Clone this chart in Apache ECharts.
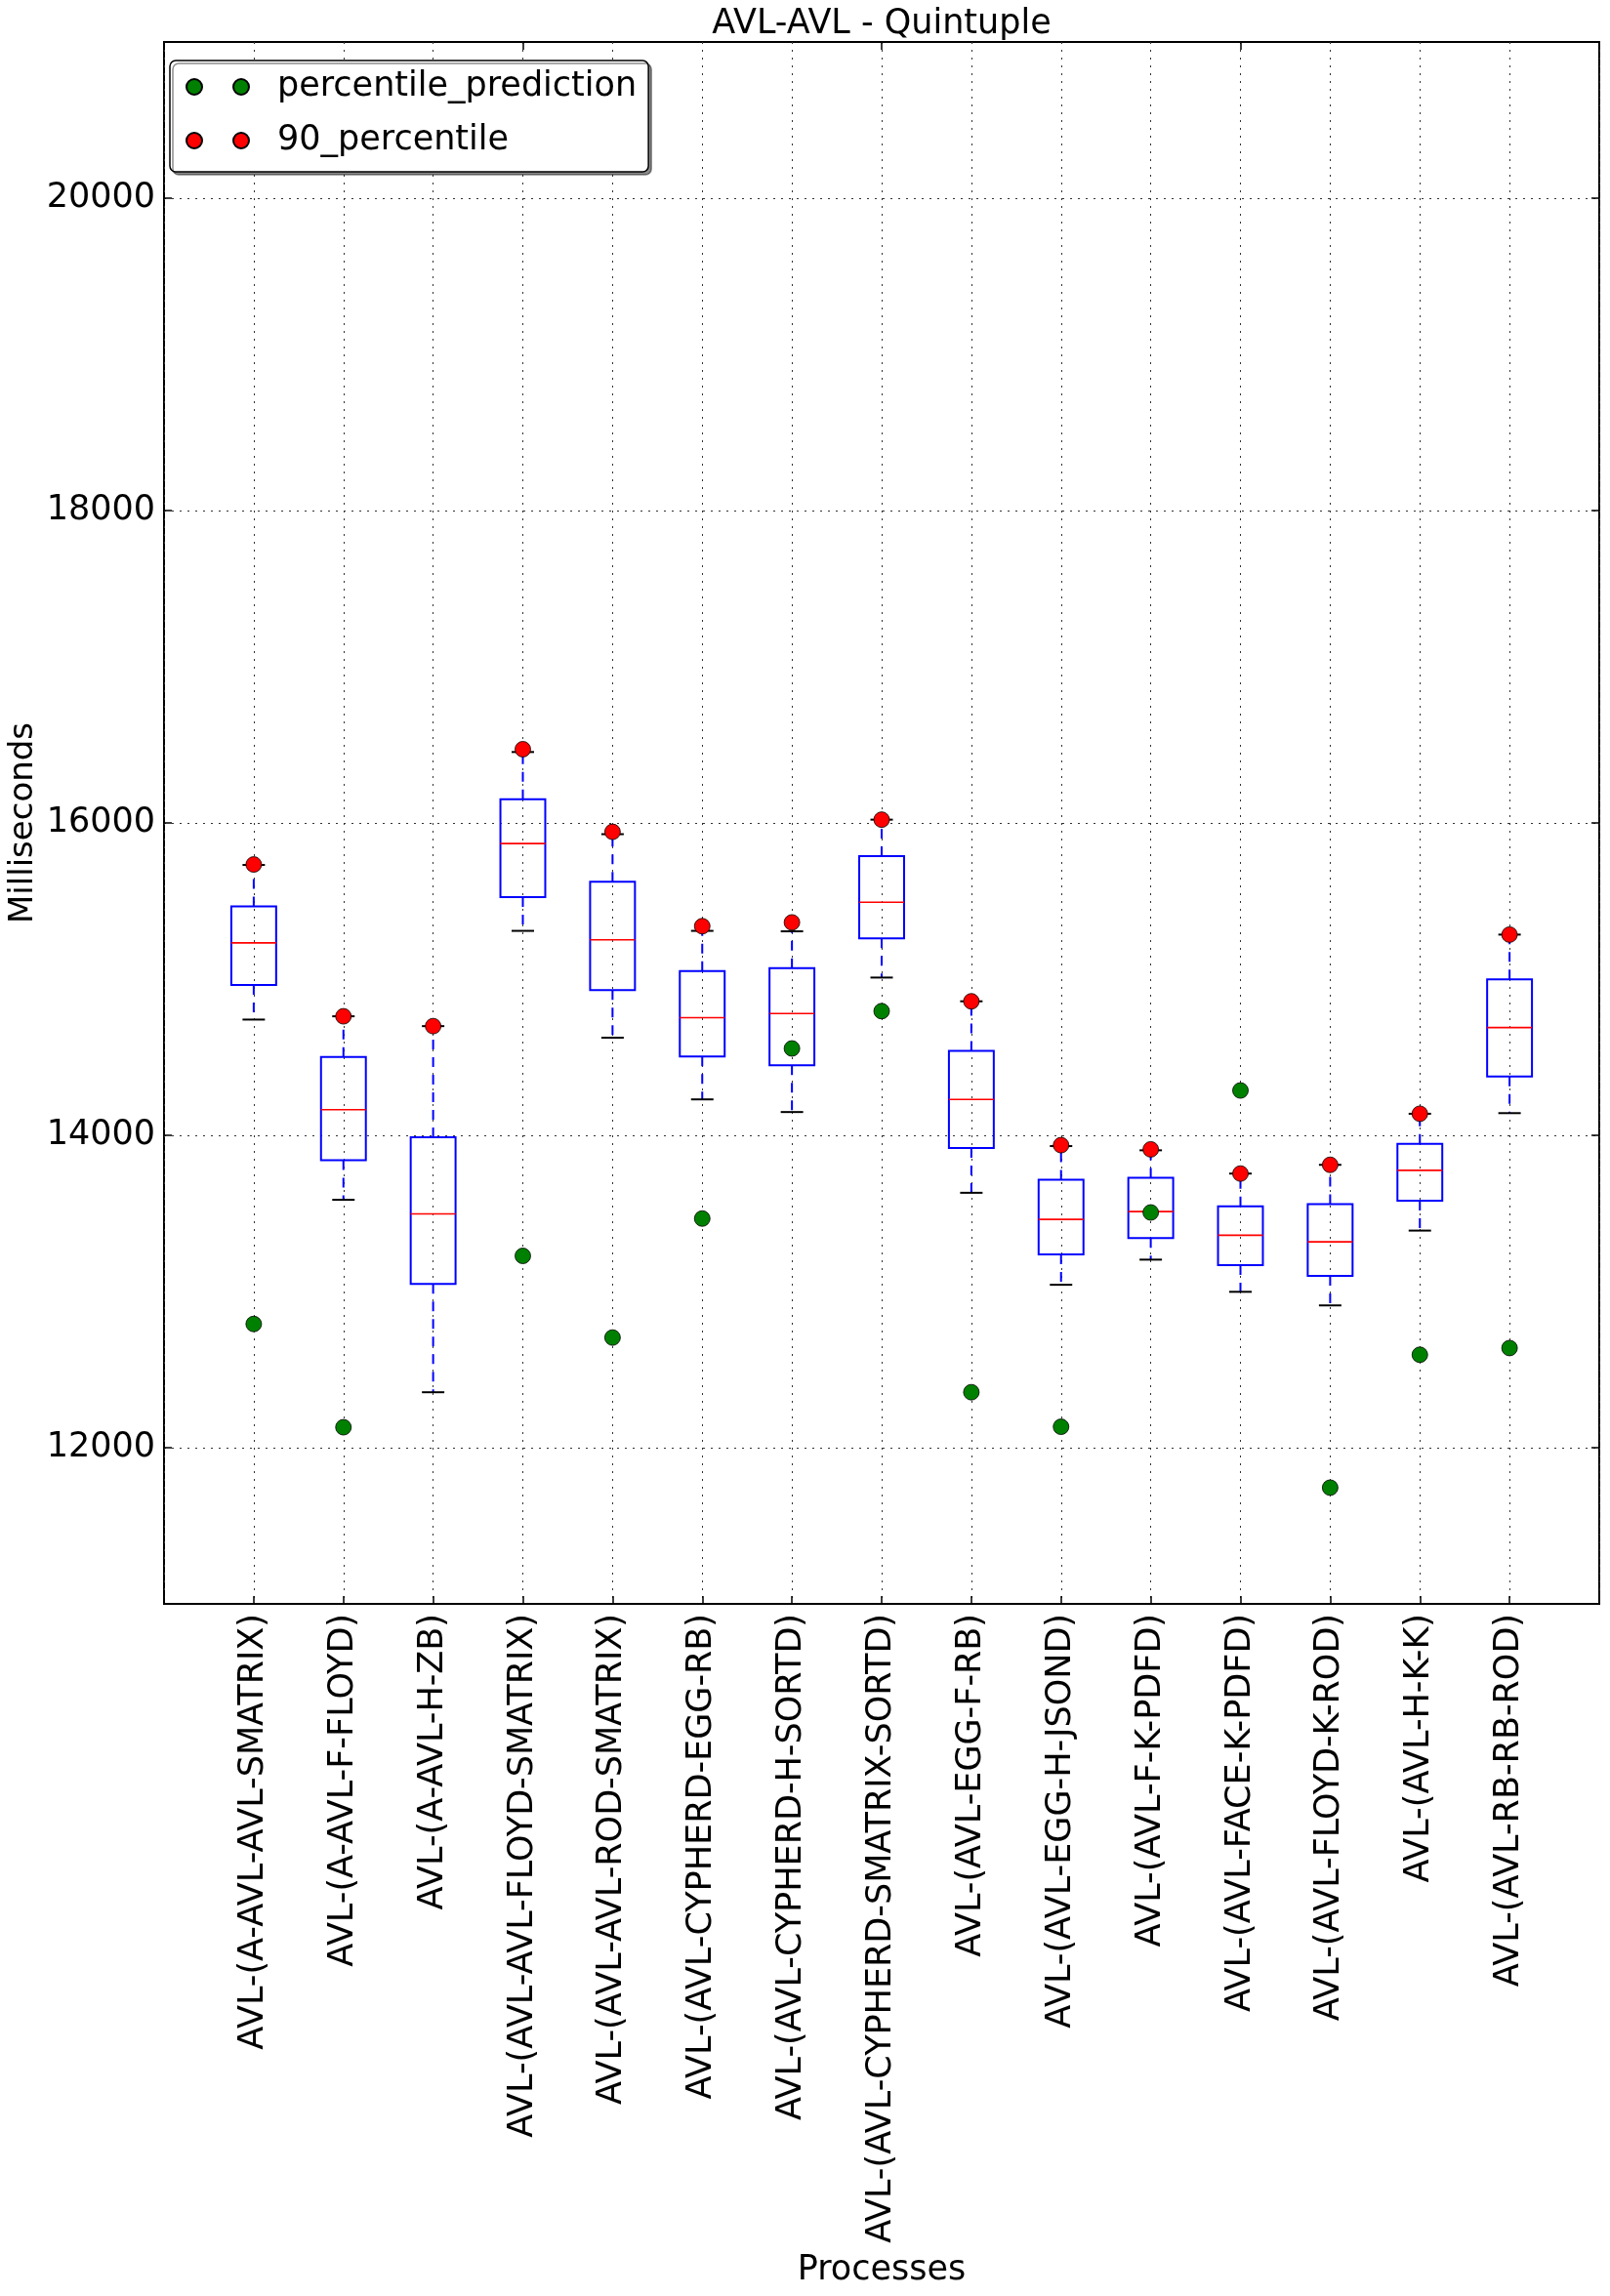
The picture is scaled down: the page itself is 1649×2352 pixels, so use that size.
<!DOCTYPE html>
<html>
<head>
<meta charset="utf-8">
<script src="https://cdn.jsdelivr.net/npm/echarts@6/dist/echarts.min.js"></script>
<style>html,body{margin:0;padding:0;background:#fff}#c{width:1649px;height:2352px}</style>
</head>
<body>
<div id="c"></div>
<script>
const categories = [
  'AVL-(A-AVL-AVL-SMATRIX)', 'AVL-(A-AVL-F-FLOYD)', 'AVL-(A-AVL-H-ZB)',
  'AVL-(AVL-AVL-FLOYD-SMATRIX)', 'AVL-(AVL-AVL-ROD-SMATRIX)', 'AVL-(AVL-CYPHERD-EGG-RB)',
  'AVL-(AVL-CYPHERD-H-SORTD)', 'AVL-(AVL-CYPHERD-SMATRIX-SORTD)', 'AVL-(AVL-EGG-F-RB)',
  'AVL-(AVL-EGG-H-JSOND)', 'AVL-(AVL-F-K-PDFD)', 'AVL-(AVL-FACE-K-PDFD)',
  'AVL-(AVL-FLOYD-K-ROD)', 'AVL-(AVL-H-K-K)', 'AVL-(AVL-RB-RB-ROD)'
];
const whiskerLow  = [14741, 13587, 12355, 15309, 14625, 14230, 14149, 15010, 13632, 13043, 13204, 12998, 12911, 13390, 14142];
const q1          = [14962, 13841, 13049, 15525, 14930, 14505, 14448, 15261, 13919, 13237, 13342, 13169, 13100, 13582, 14376];
const median      = [15232, 14164, 13497, 15868, 15252, 14753, 14780, 15492, 14230, 13462, 13512, 13360, 13318, 13776, 14690];
const q3          = [15465, 14502, 13988, 16152, 15623, 15052, 15070, 15788, 14541, 13716, 13728, 13545, 13560, 13946, 14998];
const whiskerHigh = [15731, 14762, 14699, 16454, 15928, 15309, 15306, 16021, 14858, 13931, 13904, 13755, 13811, 14138, 15285];
const percentilePrediction = [12792, 12131, null, 13228, 12705, 13467, 14556, 14795, 12355, 12134, 13506, 14287, 11744, 12595, 12638];
const percentile90         = [15734, 14762, 14699, 16472, 15943, 15339, 15363, 16021, 14858, 13937, 13910, 13755, 13811, 14138, 15285];
const yTicks = [12000, 14000, 16000, 18000, 20000];

const FONT = 'DejaVu Sans';
const axisCats = [''].concat(categories, ['']);
const boxData = categories.map((c, i) => [i + 1, whiskerLow[i], q1[i], median[i], q3[i], whiskerHigh[i]]);
const predData = percentilePrediction.map((v, i) => v == null ? null : [i + 1, v]).filter(d => d);
const p90Data = percentile90.map((v, i) => [i + 1, v]);

const dotted = { color: '#333', width: 1, type: [2, 6] };

const chart = echarts.init(document.getElementById('c'), null, { renderer: 'canvas' });
chart.setOption({
  animation: false,
  backgroundColor: '#fff',
  title: {
    text: 'AVL-AVL - Quintuple',
    left: 903, top: 7, textAlign: 'center', padding: 0,
    textStyle: { fontFamily: FONT, fontSize: 35, fontWeight: 'normal', color: '#000' }
  },
  legend: {
    orient: 'vertical', left: 174, top: 62,
    data: ['percentile_prediction', '90_percentile'],
    icon: 'path://M0,8a8,8 0 1,0 16,0a8,8 0 1,0 -16,0zM48,8a8,8 0 1,0 16,0a8,8 0 1,0 -16,0z',
    itemWidth: 64, itemHeight: 16, itemGap: 15,
    textStyle: { fontFamily: FONT, fontSize: 35, color: '#000', lineHeight: 40, padding: [0, 0, 0, 24] },
    padding: [7, 12, 12, 16],
    backgroundColor: '#fff', borderColor: '#000', borderWidth: 1.5, borderRadius: 6,
    shadowColor: 'rgba(0,0,0,0.45)', shadowOffsetX: 3, shadowOffsetY: 3, shadowBlur: 0
  },
  grid: { left: 168, top: 43, width: 1470, height: 1600, show: true, borderColor: '#000', borderWidth: 2, backgroundColor: 'transparent', containLabel: false, outerBoundsMode: 'none' },
  xAxis: [{
    type: 'category', data: axisCats, boundaryGap: false, position: 'bottom',
    name: 'Processes', nameLocation: 'middle', nameGap: 665, nameMoveOverlap: false,
    nameTextStyle: { fontFamily: FONT, fontSize: 35, color: '#000' },
    axisLine: { show: false },
    axisTick: { show: true, inside: true, length: 8, lineStyle: { color: '#000', width: 1.5 } },
    axisLabel: { rotate: 90, interval: 0, margin: 10, fontFamily: FONT, fontSize: 35, color: '#000' },
    splitLine: { show: true, lineStyle: dotted }
  }, {
    type: 'category', data: axisCats, boundaryGap: false, position: 'top',
    axisLine: { show: false },
    axisTick: { show: true, inside: true, length: 8, lineStyle: { color: '#000', width: 1.5 } },
    axisLabel: { show: false }, splitLine: { show: false }
  }],
  yAxis: [{
    type: 'value', min: 11000, max: 21000, position: 'left',
    name: 'Milliseconds', nameLocation: 'middle', nameGap: 127, nameMoveOverlap: false,
    nameTextStyle: { fontFamily: FONT, fontSize: 34, color: '#000' },
    axisLine: { show: false },
    axisTick: { show: true, inside: true, length: 8, customValues: yTicks, lineStyle: { color: '#000', width: 1.5 } },
    axisLabel: { customValues: yTicks, margin: 9, fontFamily: FONT, fontSize: 35, color: '#000', formatter: v => String(v) },
    splitLine: { show: true, lineStyle: dotted }
  }, {
    type: 'value', min: 11000, max: 21000, position: 'right',
    axisLine: { show: false },
    axisTick: { show: true, inside: true, length: 8, customValues: yTicks, lineStyle: { color: '#000', width: 1.5 } },
    axisLabel: { show: false, customValues: yTicks }, splitLine: { show: false }
  }],
  series: [{
    type: 'custom', name: 'boxes', z: 2,
    xAxisIndex: 0, yAxisIndex: 0,
    data: boxData,
    encode: { x: 0, y: [1, 2, 3, 4, 5] },
    renderItem: function (params, api) {
      const x = api.value(0);
      const lo = api.coord([x, api.value(1)]);
      const b1 = api.coord([x, api.value(2)]);
      const md = api.coord([x, api.value(3)]);
      const b3 = api.coord([x, api.value(4)]);
      const hi = api.coord([x, api.value(5)]);
      const band = api.size([1, 0])[0];
      const bw = band * 0.5, cw = band * 0.25;
      const cx = lo[0];
      const blue = '#0000ff';
      return {
        type: 'group',
        children: [
          { type: 'line', shape: { x1: cx, y1: b3[1], x2: cx, y2: hi[1] }, style: { stroke: blue, lineWidth: 2, lineDash: [10, 8] } },
          { type: 'line', shape: { x1: cx, y1: b1[1], x2: cx, y2: lo[1] }, style: { stroke: blue, lineWidth: 2, lineDash: [10, 8] } },
          { type: 'line', shape: { x1: cx - cw / 2, y1: hi[1], x2: cx + cw / 2, y2: hi[1] }, style: { stroke: '#000', lineWidth: 2 } },
          { type: 'line', shape: { x1: cx - cw / 2, y1: lo[1], x2: cx + cw / 2, y2: lo[1] }, style: { stroke: '#000', lineWidth: 2 } },
          { type: 'rect', shape: { x: cx - bw / 2, y: b3[1], width: bw, height: b1[1] - b3[1] }, style: { stroke: blue, fill: null, lineWidth: 2 } },
          { type: 'line', shape: { x1: cx - bw / 2, y1: md[1], x2: cx + bw / 2, y2: md[1] }, style: { stroke: '#ff0000', lineWidth: 1.6 } }
        ]
      };
    }
  }, {
    type: 'scatter', name: 'percentile_prediction', z: 3,
    data: predData, symbol: 'circle', symbolSize: 16,
    itemStyle: { color: '#008000', borderColor: '#000', borderWidth: 0.8, opacity: 1 }
  }, {
    type: 'scatter', name: '90_percentile', z: 3,
    data: p90Data, symbol: 'circle', symbolSize: 16,
    itemStyle: { color: '#ff0000', borderColor: '#000', borderWidth: 0.8, opacity: 1 }
  }]
});
</script>
</body>
</html>
